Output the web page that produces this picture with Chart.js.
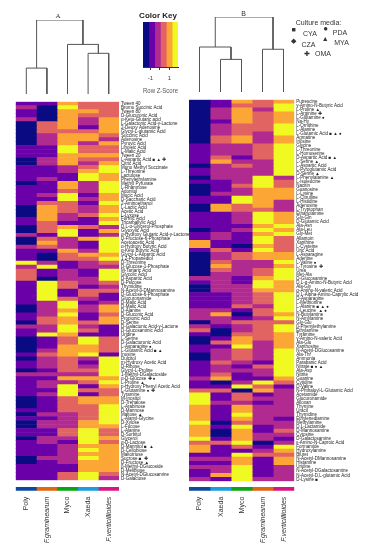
<!DOCTYPE html>
<html>
<head>
<meta charset="utf-8">
<script src="https://cdn.jsdelivr.net/npm/chart.js@4/dist/chart.umd.min.js"></script>
<style>
  html, body { margin: 0; background: #fff; }
  #page { position: relative; width: 369px; height: 550px; overflow: hidden; font-family: "Liberation Sans", Arial, sans-serif; color: #333; }
  canvas { position: absolute; }
  .note { position: absolute; white-space: nowrap; line-height: 1; transform: translate(-50%, -50%); }
  .media { font-size: 7px; }
</style>
</head>
<body>
<div id="page">
  <canvas id="dendroA"></canvas>
  <canvas id="heatA"></canvas>
  <canvas id="stripA"></canvas>
  <canvas id="dendroB"></canvas>
  <canvas id="heatB"></canvas>
  <canvas id="stripB"></canvas>
  <canvas id="colorKey"></canvas>

  <div class="note" style="left:58px;top:15.5px;font:7px 'Liberation Serif',serif">A</div>
  <div class="note" style="left:243.5px;top:12.5px;font-size:7px">B</div>
  <div class="note" style="left:158px;top:15.5px;font-size:8px;font-weight:bold;color:#222">Color Key</div>

  <div class="note media" style="left:318.5px;top:21.5px">Culture media:</div>
  <div class="note" style="left:293.5px;top:28.5px;font-size:7px">■</div>
  <div class="note media" style="left:310px;top:32.5px">CYA</div>
  <div class="note" style="left:325.7px;top:28.5px;font-size:8px">●</div>
  <div class="note media" style="left:340px;top:32px">PDA</div>
  <div class="note" style="left:325.3px;top:37.5px;font-size:7px">▲</div>
  <div class="note media" style="left:341.5px;top:41.5px">MYA</div>
  <div class="note" style="left:293.7px;top:40px;font-size:7px">◆</div>
  <div class="note media" style="left:308.5px;top:43.5px">CZA</div>
  <div class="note" style="left:307.3px;top:52.7px;font-size:7px">✚</div>
  <div class="note media" style="left:323px;top:52.7px">OMA</div>
</div>

<script>
// colour bins of the key, low to high z-score
const PLASMA = ["#0a0a82", "#6a00a8", "#b12a90", "#e16462", "#fca636", "#f0f921"];
const keyEdges = [-1.77, -1.16, -0.55, 0.06, 0.67, 1.28, 1.89];
const keyTicks = [-1, 0, 1];

const COLUMN_COLORS = {
  "Poly": "#0b4a9e",
  "F.graminearum": "#e2650f",
  "Myco": "#0aa313",
  "Xaeda": "#1b9ddd",
  "F.verticillioides": "#d9157f"
};

const columnsA = ["Poly", "F.graminearum", "Myco", "Xaeda", "F.verticillioides"];
const columnsB = ["Poly", "Xaeda", "Myco", "F.graminearum", "F.verticillioides"];

const rowsA = [
  "Tween 40", "Bromo Succinic Acid", "Tween 80", "D-Glucuronic Acid", "α-Keto-Glutaric acid",
  "L-Galactonic Acid-γ-Lactone", "2-Deoxy Adenosine", "Glycyl-L-glutamic Acid", "Succinic Acid", "Adenosine",
  "Pyruvic Acid", "Linoleic Acid", "L-Malic Acid", "Tween 20", "L-Aspartic Acid ■ ▲ ✚",
  "Citric Acid", "Mono Methyl Succinate", "L-Threonine", "Lactulose", "Phenylethylamine",
  "Methyl Pyruvate", "L-Rhamnose", "Adonitol", "Mucic Acid", "D-Saccharic Acid",
  "2-Aminoethanol", "L-Lactic Acid", "Acetic Acid", "L-Lyxose", "Formic Acid",
  "Tricarballylic Acid", "D,L-α-Glycerol-Phosphate", "Glyoxylic Acid", "α-Hydroxy Glutaric Acid-γ-Lactone", "D-Fructose-6-Phosphate",
  "Acetoacetic Acid", "α-Hydroxy Butyric Acid", "α-Keto Butyric Acid", "Glycyl-L-Aspartic Acid", "1,2-Propanediol",
  "D-Threonine", "D-Glucose-1-Phosphate", "M-Tartaric Acid", "Glycolic Acid", "D-Aspartic Acid",
  "D-Psicose", "Thymidine", "N-Acetyl-β-DMannosamine", "D-Glucose-6-Phosphate", "Glucuronamide",
  "D-Malic Acid", "D-Malic Acid", "D-Alanine", "D-Gluconic Acid", "Propionic Acid",
  "D-Serine", "D-Galactonic Acid-γ-Lactone", "D-Glucosaminic Acid", "Uridine", "L-Serine",
  "D-Galacturonic Acid", "L-Asparagine ●", "L-Glutamic Acid ■ ▲", "Inosine", "Dulcitol",
  "m-Hydroxy Acetic Acid", "D-Ribose", "Glycyl-L-Proline", "1-Methyl-DGalactoside", "α-D-Glucose ✚ ●",
  "L-Proline ▲", "p-Hydroxy Phenyl Acetic Acid", "L-Glutamine ● ✚", "Tyramine", "M-Inositol",
  "D-Trehalose", "L-Arabinose", "D-Mannose", "Maltose ▲", "L-Alanyl-Glycine",
  "D-Xylose", "L-Fucose", "L-Alanine", "D-Sorbitol", "Glycerol",
  "α-D-Lactose", "D-Mannitol ■  ▲", "D-Cellobiose", "Maltotriose", "Sucrose ■  ✚",
  "D-Fructose ▲", "β-Methyl-DGlucoside", "D-Melibiose", "N-Acetyl-DGlucosamine", "D-Galactose"
];

const rowsB = [
  "Putrescine", "γ-Amino-N-Butyric Acid", "L-Proline ▲", "L-Arginine ✚", "L-Glutamine ●",
  "Na-Hy", "L-Ornithine", "L-Alanine", "L-Glutamic Acid ■ ▲ ●", "Agmatine",
  "Inosine", "Glycine", "L-Threonine", "L-Homoserine", "D-Aspartic Acid ■ ▲",
  "L-Serine ▲", "L-Aspartic Acid", "L-Pyroglutamic Acid", "D-Serine ▲", "L-Phenylalanine ▲",
  "L-Isoleucine", "Nacitin", "Guanosine", "L-Lysine", "L-Citrulline",
  "L-Histidine", "Adenosine", "L-Tryptophan", "Ethanolamine", "Gly-Gln",
  "D-Glutamic Acid", "Ala-Asn", "Ala-Leu", "Gly-Met", "Allantoin",
  "Xanthine", "L-Cysteine", "Uric Acid", "L-Asparagine", "Adenine",
  "L-Valine ●", "L-Tyrosine ✚", "Urea", "Met-Ala", "D-Glucosamine",
  "D,L-α-Amino-N-Butyric Acid", "Ala-Gly", "α-Amino-N-valeric Acid", "D,L-Alpha-Amino-Caprylic Acid", "D-Asparagine",
  "L-Methionine", "L-Alanine ■ ▲ ●", "L-Leucine  ▲ ●", "N-Butylamine", "N-Amylamine",
  "Gly-Glu", "β-Phenylethylamine", "Ethylamine", "Tyramine", "γ-Amino-N-valeric Acid",
  "Ala-Glu", "Xanthosine", "N-Acetyl-DGlucosamine", "Ala-Thr", "Ammonia",
  "Parabanic Acid", "Nitrate ■ ● ▲", "Ala-Asp", "Nitrite", "Guanine",
  "Cytidine", "D-Valine", "N-Phthaloyl-L-Glutamic Acid", "Acetamide", "Glucuronamide",
  "Alloxan", "Thymine", "Uracil", "Thymidine", "Ethylenediamine",
  "Methylamine", "D,L-Lactamide", "D-Mannosamine", "Cytosine", "D-Galactosamine",
  "ε-Amino-N-Caproic Acid", "Formamide", "Hydroxylamine", "Biuret", "N-Acetyl-DMannosamine",
  "Histamine", "Uridine", "N-Acetyl-DGalactosamine", "N-Acetyl-D,L-glutamic Acid", "D-Lysine ■"
];

// heatmap cells as colour-bin index (0-5), one array per column
const polyA = [
  1,2,1,1,2,0,0,0,0,0, 0,1,1,1,0,0,1,1,1,1, 0,1,1,1,1,1,0,0,0,1, 1,0,0,2,0,0,2,1,1,1, 5,2,3,3,3,1,1,1,1,1,
  1,0,0,1,1,0,2,1,1,0, 0,0,0,1,0,1,1,0,2,1, 1,1,1,1,0,0,0,1,0,1, 0,0,1,1,0,1,1,1,1,0, 0,1,1,1,1
];
const gramA = [
  1,0,0,0,0,3,3,3,2,2, 2,1,1,1,2,2,1,1,1,2, 1,1,1,2,1,3,4,4,4,4, 3,3,3,1,3,4,3,1,0,0, 2,5,1,1,0,5,5,5,5,5,
  2,2,2,2,3,3,2,2,5,1, 1,1,2,3,2,2,2,1,2,1, 2,2,1,2,1,1,1,1,2,1, 2,2,1,1,2,2,1,1,1,2, 1,1,1,1,1
];
const mycoA = [
  4,5,4,4,4,4,4,3,4,4, 4,5,5,4,4,4,2,2,1,1, 4,4,3,5,5,3,3,3,2,2, 1,4,5,5,2,2,2,4,3,3, 1,1,2,2,2,3,3,1,1,3,
  5,5,4,5,4,4,5,5,4,3, 3,4,4,4,3,3,3,3,2,4, 2,5,5,5,3,3,3,3,2,2, 2,2,3,3,2,1,2,2,2,2, 2,1,1,3,3
];
const xaedaA = [
  3,3,4,3,2,2,1,3,4,4, 2,3,3,4,3,2,3,4,5,5, 2,2,2,1,2,1,2,2,3,1, 1,3,1,1,4,1,1,2,4,3, 2,2,1,1,2,2,1,3,3,2,
  1,2,2,1,1,3,2,3,1,5, 5,4,4,5,2,1,2,3,2,4, 3,1,3,1,4,4,3,3,3,3, 4,4,5,5,5,5,4,5,4,5, 4,4,4,5,5
];
const vertA = [
  3,3,3,3,4,4,4,4,3,2, 4,3,3,4,3,4,5,5,4,4, 5,5,5,4,4,5,4,4,5,4, 5,2,4,2,5,5,5,5,4,5, 3,2,5,5,5,3,2,3,1,1,
  2,4,4,3,4,4,1,1,1,3, 3,3,3,1,5,5,5,5,5,4, 5,4,3,3,4,4,5,5,5,5, 5,4,3,3,4,3,4,4,4,4, 4,4,4,3,2
];

const polyB = [
  0,0,0,0,0,0,0,0,0,0, 0,1,1,1,1,1,0,1,1,0, 1,0,0,0,1,1,0,0,1,1, 1,1,0,1,1,4,4,1,0,0, 0,0,0,0,2,1,0,0,1,1,
  1,1,2,2,2,0,2,3,1,0, 0,1,1,0,0,1,1,1,1,2, 1,1,3,5,5,5,4,4,4,4, 5,4,4,4,5,3,4,4,1,2, 1,2,1,1,2
];
const xaedaB = [
  1,1,2,2,2,1,2,2,2,3, 3,2,2,2,3,4,2,2,2,2, 1,1,1,2,1,1,4,4,1,1, 1,1,1,2,2,1,1,3,2,2, 3,4,3,2,2,2,2,2,1,1,
  1,1,2,4,2,2,1,0,0,1, 3,1,2,2,2,3,2,2,3,4, 0,1,3,1,1,2,1,1,1,1, 0,1,0,0,1,3,1,1,1,2, 1,2,2,4,1
];
const mycoB = [
  4,3,4,4,4,4,3,3,3,4, 4,2,2,2,1,2,3,2,2,2, 2,3,2,2,5,5,3,3,2,2, 2,1,2,1,1,1,0,1,3,3, 2,2,2,2,1,1,2,2,2,2,
  2,3,1,0,1,3,2,2,3,4, 4,5,3,3,3,2,1,2,1,1, 2,5,0,3,3,2,4,4,5,4, 3,5,4,4,4,5,3,1,5,4, 4,5,5,5,5
];
const gramB = [
  3,3,2,3,3,3,3,3,2,2, 2,3,3,3,3,2,2,2,2,5, 5,5,4,4,4,4,4,3,5,5, 5,4,5,4,5,5,4,5,4,4, 2,2,3,3,4,5,5,4,3,3,
  3,2,3,3,2,3,3,3,3,3, 2,2,2,2,2,1,3,2,2,1, 5,3,4,1,2,1,2,2,2,2, 2,1,1,2,2,0,1,2,3,1, 1,1,1,1,2
];
const vertB = [
  4,5,5,4,4,4,5,5,5,4, 4,5,5,5,5,5,5,5,5,2, 3,3,4,4,4,2,2,2,4,4, 4,5,4,5,3,3,3,3,4,4, 5,4,5,5,5,4,4,4,5,5,
  5,5,5,4,5,3,5,5,4,4, 4,4,5,5,5,5,5,5,5,4, 3,1,2,2,2,2,2,2,2,1, 2,2,3,2,1,2,5,4,3,4, 4,2,2,2,2
];

// dendrogram brackets, in column positions (leaf 1 = first column) and merge height (0-100)
const bracketLeftA = [1, 4, 3, 1.5];
const bracketRightA = [2, 5, 4.5, 3.75];
const bracketTopA = [35, 55, 67, 100];
const bracketLeftBaseA = [0, 0, 0, 35];
const bracketRightBaseA = [0, 0, 55, 67];

const bracketLeftB = [2, 4, 1, 1.75];
const bracketRightB = [3, 5, 2.5, 4.5];
const bracketTopB = [43.5, 57, 60, 100];
const bracketLeftBaseB = [0, 0, 0, 60];
const bracketRightBaseB = [0, 0, 43.5, 57];

const noAnim = { animation: false, responsive: false, events: [] };
const noPlugins = { legend: { display: false }, tooltip: { enabled: false } };

function place(id, left, top, width, height) {
  const canvas = document.getElementById(id);
  canvas.width = width;
  canvas.height = height;
  canvas.style.left = left + "px";
  canvas.style.top = top + "px";
  canvas.style.width = width + "px";
  canvas.style.height = height + "px";
  return canvas;
}

function drawHeat(id, left, top, size, padLeft, axisWidth, rows, columns) {
  new Chart(place(id, left, top, size.width, size.height), {
    type: "bar",
    data: {
      labels: rows,
      datasets: columns.map((levels) => ({
        data: rows.map(() => 1),
        backgroundColor: levels.map((level) => PLASMA[level]),
        borderWidth: 0,
        barPercentage: 1,
        categoryPercentage: 1
      }))
    },
    options: {
      ...noAnim,
      indexAxis: "y",
      layout: { padding: { left: padLeft, top: 0, bottom: 0, right: 0 } },
      plugins: noPlugins,
      scales: {
        x: { stacked: true, display: false, min: 0, max: columns.length },
        y: {
          stacked: true,
          position: "right",
          afterFit: (scale) => { scale.width = axisWidth; },
          grid: { display: false, drawTicks: false, tickLength: 0 },
          border: { display: false },
          ticks: {
            autoSkip: false,
            padding: 2,
            color: "#222",
            font: { size: 4.5, family: "'Liberation Sans', Arial, sans-serif" }
          }
        }
      }
    }
  });
}

function drawStrip(id, left, top, size, padLeft, padRight, columns) {
  new Chart(place(id, left, top, size.width, size.height), {
    type: "bar",
    data: {
      labels: [""],
      datasets: columns.map((name) => ({
        data: [1],
        backgroundColor: COLUMN_COLORS[name],
        borderWidth: 0,
        barPercentage: 1,
        categoryPercentage: 1
      }))
    },
    options: {
      ...noAnim,
      indexAxis: "y",
      layout: { padding: { left: padLeft, right: padRight, top: 0, bottom: 0 } },
      plugins: noPlugins,
      scales: {
        y: { stacked: true, display: false },
        x: {
          stacked: true,
          min: 0,
          max: columns.length,
          afterBuildTicks: (scale) => {
            scale.ticks = columns.map((_, i) => ({ value: i + 0.5 }));
          },
          afterFit: (scale) => { scale.height = size.height - 3.7; },
          grid: { display: false, drawTicks: false, tickLength: 0 },
          border: { display: false },
          ticks: {
            autoSkip: false,
            minRotation: 90,
            maxRotation: 90,
            padding: 6,
            color: "#333",
            callback: (value) => columns[Math.floor(value)],
            font: (ctx) => ({
              size: 7,
              family: "'Liberation Sans', Arial, sans-serif",
              style: String(ctx.tick ? columns[Math.floor(ctx.tick.value)] : "").startsWith("F.") ? "italic" : "normal"
            })
          }
        }
      }
    }
  });
}

function drawDendro(id, left, top, width, height, count, lefts, rights, tops, leftBases, rightBases) {
  new Chart(place(id, left, top, width, height), {
    type: "scatter",
    data: {
      datasets: lefts.map((_, i) => ({
        data: [
          { x: lefts[i], y: leftBases[i] },
          { x: lefts[i], y: tops[i] },
          { x: rights[i], y: tops[i] },
          { x: rights[i], y: rightBases[i] }
        ],
        showLine: true,
        borderColor: "#555",
        borderWidth: 1,
        pointRadius: 0,
        tension: 0
      }))
    },
    options: {
      ...noAnim,
      layout: { padding: 0 },
      plugins: noPlugins,
      scales: {
        x: { display: false, min: 0.5, max: count + 0.5 },
        y: { display: false, min: 0, max: 100 }
      }
    }
  });
}

function drawKey() {
  new Chart(place("colorKey", 130, 15, 60, 80), {
    type: "bar",
    data: {
      labels: [""],
      datasets: PLASMA.map((color, i) => ({
        data: [[keyEdges[i], keyEdges[i + 1]]],
        backgroundColor: color,
        borderWidth: 0,
        barPercentage: 1,
        categoryPercentage: 1,
        grouped: false
      }))
    },
    options: {
      ...noAnim,
      indexAxis: "y",
      layout: { padding: { left: 13, right: 12, top: 7, bottom: 0 } },
      plugins: noPlugins,
      scales: {
        y: { display: false },
        x: {
          min: keyEdges[0],
          max: keyEdges[keyEdges.length - 1],
          afterBuildTicks: (scale) => {
            scale.ticks = keyTicks.map((value) => ({ value }));
          },
          afterFit: (scale) => { scale.height = 28; },
          border: { display: true, color: "#333", width: 1 },
          grid: { drawOnChartArea: false, drawTicks: true, tickLength: 3, color: "#333" },
          ticks: {
            padding: 5,
            maxRotation: 0,
            color: "#444",
            callback: (value) => (value === 0 ? "" : String(value)),
            font: { size: 6, family: "'Liberation Sans', Arial, sans-serif" }
          },
          title: {
            display: true,
            text: "Row Z-Score",
            color: "#555",
            padding: { top: 2, bottom: 0 },
            font: { size: 6.5, family: "'Liberation Sans', Arial, sans-serif" }
          }
        }
      }
    }
  });
}

const heatSize = { width: 200, height: 388 };
const heatSizeB = { width: 184, height: 391 };
const stripSize = { width: 185, height: 63 };
const stripSizeB = { width: 184, height: 63 };

drawDendro("dendroA", 15.7, 20, 103.3, 74, 5, bracketLeftA, bracketRightA, bracketTopA, bracketLeftBaseA, bracketRightBaseA);
drawHeat("heatA", 0, 97, heatSize, 15.7, 81, rowsA, [polyA, gramA, mycoA, xaedaA, vertA]);
drawStrip("stripA", 0, 487, stripSize, 15.7, 66, columnsA);

drawDendro("dendroB", 189, 17, 105.3, 75, 5, bracketLeftB, bracketRightB, bracketTopB, bracketLeftBaseB, bracketRightBaseB);
drawHeat("heatB", 185, 94.7, heatSizeB, 4, 74.7, rowsB, [polyB, xaedaB, mycoB, gramB, vertB]);
drawStrip("stripB", 185, 487, stripSizeB, 4, 74.7, columnsB);

drawKey();
</script>
</body>
</html>
